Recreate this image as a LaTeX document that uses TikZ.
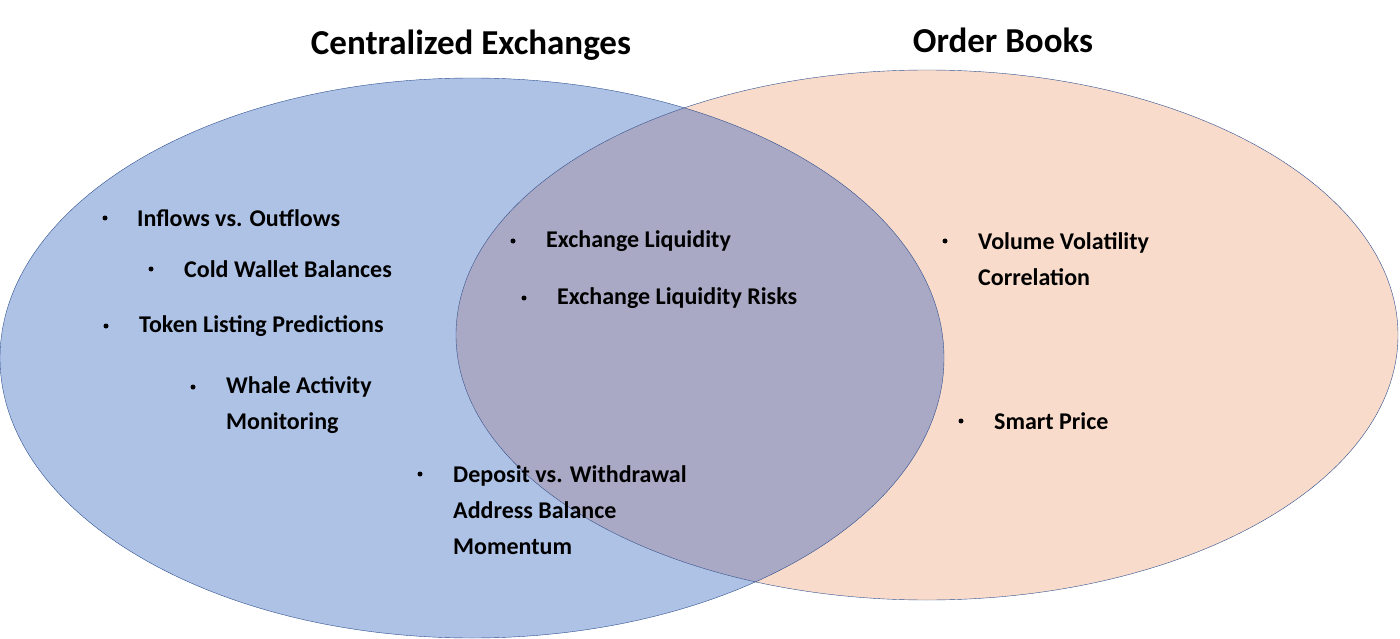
\documentclass[tikz,border=0pt]{standalone}
\usepackage{fontspec}
\setmainfont{Carlito}
\definecolor{cexfill}{HTML}{AEC2E6}
\definecolor{obfill}{HTML}{F8DBCA}
\definecolor{bothfill}{HTML}{A9A9C5}
\definecolor{edge}{HTML}{2F4F8F}
\begin{document}
\begin{tikzpicture}[x=1pt,y=-1pt,
  item/.style={anchor=west,align=left,inner sep=0pt,font=\bfseries\fontsize{24}{36}\selectfont},
  dot/.style={circle,fill=black,inner sep=0pt,minimum size=5pt},
  title/.style={font=\bfseries\fontsize{35}{40}\selectfont}]
\useasboundingbox (0,0) rectangle (1400,639);

%Mengen
\fill[cexfill] (472,358) ellipse [x radius=472, y radius=280];
\fill[obfill] (927,335) ellipse [x radius=471, y radius=265];
\begin{scope}
\clip (472,358) ellipse [x radius=472, y radius=280];
\fill[bothfill] (927,335) ellipse [x radius=471, y radius=265];
\end{scope}
\draw[edge] (472,358) ellipse [x radius=472, y radius=280];
\draw[edge] (927,335) ellipse [x radius=471, y radius=265];

\node[title] (cex) at (471,45) {Centralized Exchanges};
\node[title] (ob) at (1003,40) {Order Books};

%Punkte
\node[item] (inflows) at (137,218) {Inflows vs. Outflows};
\node[dot] at (105,218) {};
\node[item] (cold) at (184,269) {Cold Wallet Balances};
\node[dot] at (151,269) {};
\node[item] (token) at (139,326) {Token Listing Predictions};
\node[dot] at (106,326) {};
\node[item] (whale) at (226,405) {Whale Activity\\Monitoring};
\node[dot] at (193,387) {};
\node[item] (deposit) at (453,510) {Deposit vs. Withdrawal\\Address Balance\\Momentum};
\node[dot] at (420,474) {};
\node[item] (liq) at (546,241) {Exchange Liquidity};
\node[dot] at (513,241) {};
\node[item] (risk) at (557,298) {Exchange Liquidity Risks};
\node[dot] at (524,298) {};
\node[item] (vol) at (978,259) {Volume Volatility\\Correlation};
\node[dot] at (945,241) {};
\node[item] (smart) at (994,421) {Smart Price};
\node[dot] at (961,421) {};
\end{tikzpicture}
\end{document}
